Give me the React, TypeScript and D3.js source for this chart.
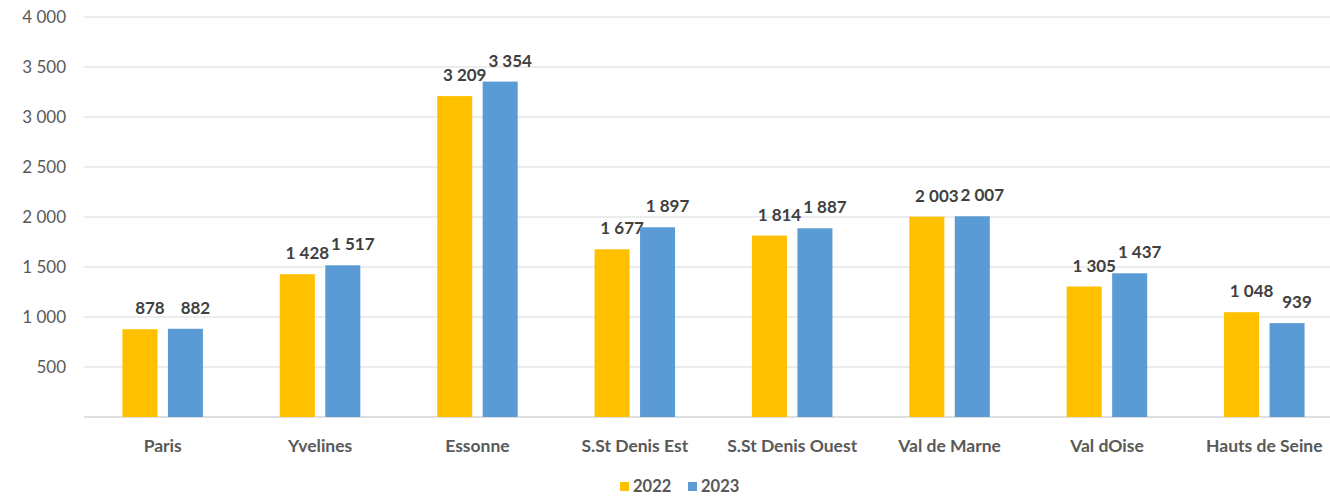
import * as d3 from "d3";
import React, { useEffect, useRef } from "react";

const categories = [
    "Paris",
    "Yvelines",
    "Essonne",
    "S.St Denis Est",
    "S.St Denis Ouest",
    "Val de Marne",
    "Val dOise",
    "Hauts de Seine",
];
const seriesNames = ["2022", "2023"];
const values2022 = [878, 1428, 3209, 1677, 1814, 2003, 1305, 1048];
const values2023 = [882, 1517, 3354, 1897, 1887, 2007, 1437, 939];
const yTicks = [500, 1000, 1500, 2000, 2500, 3000, 3500, 4000];
const colours = ["#FFC000", "#5B9BD5"];

const width = 1330;
const height = 496;
const font = "Lato, 'Open Sans', sans-serif";

function App() {
    const svgRef: any = useRef<any>(null);

    useEffect(() => {
        drawChart();
    }, []);

    const drawChart = () => {
        const svg = d3.select(svgRef.current);
        svg.selectAll("*").remove();

        const fr = d3.formatLocale({ decimal: ",", thousands: " ", grouping: [3], currency: ["", " €"] });
        const fmt = fr.format(",d");

        const x = d3.scaleBand<string>().domain(categories).range([84, 1343]);
        const inner = d3.scaleBand<string>().domain(seriesNames).range([0, x.bandwidth()]).paddingInner(0.23).paddingOuter(0.845);
        const y = d3.scaleLinear().domain([0, 4000]).range([417, 17]);

        // grid
        svg.append("g")
            .selectAll("line")
            .data(yTicks)
            .join("line")
            .attr("x1", 84)
            .attr("x2", width)
            .attr("y1", d => y(d))
            .attr("y2", d => y(d))
            .attr("stroke", "#d9d9d9")
            .attr("stroke-width", 1.2);

        svg.append("g")
            .selectAll("text")
            .data(yTicks)
            .join("text")
            .attr("x", 66)
            .attr("y", d => y(d) + 6)
            .attr("text-anchor", "end")
            .attr("font-family", font)
            .attr("font-size", 17)
            .attr("fill", "#595959")
            .text(d => fmt(d));

        // baseline
        svg.append("line")
            .attr("x1", 84)
            .attr("x2", width)
            .attr("y1", y(0))
            .attr("y2", y(0))
            .attr("stroke", "#bfbfbf")
            .attr("stroke-width", 1.2);

        const allSeries = [values2022, values2023];
        const groups = svg.append("g")
            .selectAll("g")
            .data(categories)
            .join("g")
            .attr("transform", d => `translate(${x(d)},0)`);

        seriesNames.forEach((s, si) => {
            groups.append("rect")
                .attr("x", inner(s)!)
                .attr("width", inner.bandwidth())
                .attr("y", (d, i) => y(allSeries[si][i]))
                .attr("height", (d, i) => y(0) - y(allSeries[si][i]))
                .attr("fill", colours[si]);

            groups.append("text")
                .attr("x", inner(s)! + inner.bandwidth() / 2 + 10)
                .attr("y", (d, i) => y(allSeries[si][i]) - 15)
                .attr("text-anchor", "middle")
                .attr("font-family", font)
                .attr("font-weight", "bold")
                .attr("font-size", 17)
                .attr("fill", "#404040")
                .text((d, i) => fmt(allSeries[si][i]));
        });

        // category labels
        svg.append("g")
            .selectAll("text")
            .data(categories)
            .join("text")
            .attr("x", d => x(d)! + x.bandwidth() / 2)
            .attr("y", 452)
            .attr("text-anchor", "middle")
            .attr("font-family", font)
            .attr("font-weight", "bold")
            .attr("font-size", 17.5)
            .attr("fill", "#595959")
            .text(d => d);

        // legend
        const legend = svg.append("g").attr("transform", "translate(620,0)");
        const lx = [0, 68];
        seriesNames.forEach((s, si) => {
            legend.append("rect")
                .attr("x", lx[si])
                .attr("y", 482)
                .attr("width", 9)
                .attr("height", 9)
                .attr("fill", colours[si]);
            legend.append("text")
                .attr("x", lx[si] + 13)
                .attr("y", 492)
                .attr("font-family", font)
                .attr("font-weight", "bold")
                .attr("font-size", 16.5)
                .attr("fill", "#595959")
                .text(s);
        });
    };

    return (
        <svg
            ref={svgRef}
            width={width}
            height={height}
            style={{ position: "absolute", left: 0, top: 0, background: "#fff" }}
        />
    );
}

export default App;
